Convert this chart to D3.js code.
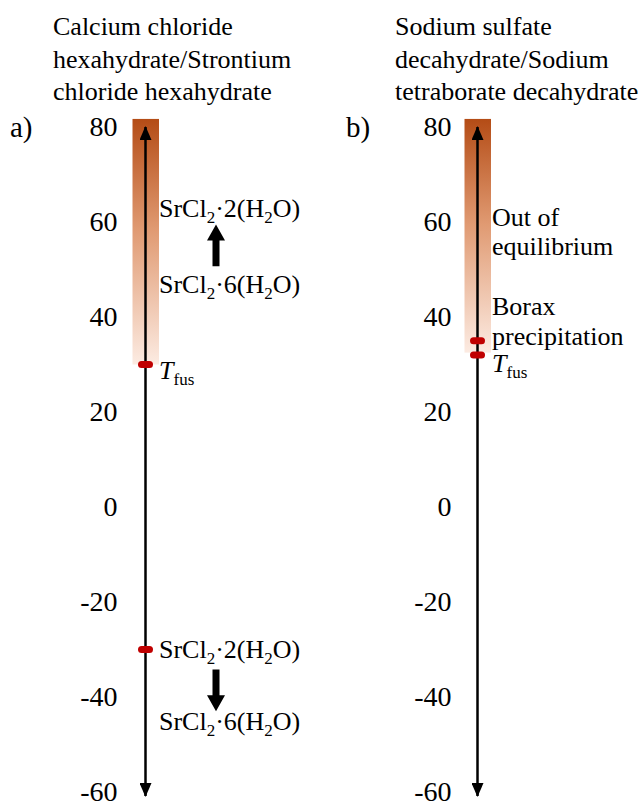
<!DOCTYPE html>
<html>
<head>
<meta charset="utf-8">
<script src="https://cdn.jsdelivr.net/npm/d3@7"></script>
<style>
  body { margin: 0; background: #fff; }
  svg text { font-family: "Liberation Serif", "Times New Roman", serif; fill: #000; }
</style>
</head>
<body>
<div id="chart"></div>
<script>
// Temperature axis (°C) shared by both panels
const tickValues = [80, 60, 40, 20, 0, -20, -40, -60];
const axisRange = [80, -60];

// Panel a) calcium chloride / strontium chloride
const titleA = ["Calcium chloride", "hexahydrate/Strontium", "chloride hexahydrate"];
const barA = [81.7, 30];          // shaded band (top, bottom)
const markersA = [30, -30];       // red marks on the axis
const labelsA = [
    {value: 63, parts: [["SrCl", 0], ["2", 1], ["·2(H", 0], ["2", 1], ["O)", 0]]},
    {value: 47, parts: [["SrCl", 0], ["2", 1], ["·6(H", 0], ["2", 1], ["O)", 0]]},
    {value: 28.8, parts: [["T", 2], ["fus", 1]]},
    {value: -30, parts: [["SrCl", 0], ["2", 1], ["·2(H", 0], ["2", 1], ["O)", 0]]},
    {value: -45, parts: [["SrCl", 0], ["2", 1], ["·6(H", 0], ["2", 1], ["O)", 0]]}
];
const bigArrowsA = [[50.7, 59.5], [-34.2, -43]];  // [from, to]

// Panel b) sodium sulfate / sodium tetraborate
const titleB = ["Sodium sulfate", "decahydrate/Sodium", "tetraborate decahydrate"];
const barB = [81.7, 32.5];
const markersB = [35, 32];
const labelsB = [
    {value: 61, parts: [["Out of", 0]]},
    {value: 55, parts: [["equilibrium", 0]]},
    {value: 42.3, parts: [["Borax", 0]]},
    {value: 36, parts: [["precipitation", 0]]},
    {value: 30.2, parts: [["T", 2], ["fus", 1]]}
];

const width = 643, height = 806;

const svg = d3.select("#chart").append("svg")
    .attr("width", width)
    .attr("height", height);

const defs = svg.append("defs");

// gradient for the shaded band
const grad = defs.append("linearGradient")
    .attr("id", "band")
    .attr("x1", 0).attr("y1", 0).attr("x2", 0).attr("y2", 1);
grad.append("stop").attr("offset", "0%").attr("stop-color", "#b44c16");
grad.append("stop").attr("offset", "45%").attr("stop-color", "#e09a72");
grad.append("stop").attr("offset", "100%").attr("stop-color", "#fcebe2");

// arrowhead for the axis line
defs.append("marker")
    .attr("id", "tip")
    .attr("viewBox", "0 0 14 12")
    .attr("refX", 13).attr("refY", 6)
    .attr("markerWidth", 14).attr("markerHeight", 12)
    .attr("markerUnits", "userSpaceOnUse")
    .attr("orient", "auto-start-reverse")
  .append("path")
    .attr("d", "M0,0 L14,6 L0,12 Z")
    .attr("fill", "#000");

const y = d3.scaleLinear()
    .domain(axisRange)
    .range([127, 792]);

function drawPanel(opt) {
    const g = svg.append("g");

    // title lines
    g.append("text")
        .attr("x", opt.titleX)
        .attr("y", 35)
        .style("font-size", "26px")
        .selectAll("tspan")
        .data(opt.title)
        .join("tspan")
            .attr("x", opt.titleX)
            .attr("dy", (d, i) => i === 0 ? 0 : 32.5)
            .text(d => d);

    // panel letter
    g.append("text")
        .attr("x", opt.letterX)
        .attr("y", y(80))
        .attr("dy", "0.34em")
        .style("font-size", "29px")
        .text(opt.letter);

    // shaded band
    g.append("rect")
        .attr("x", opt.axisX - 13)
        .attr("y", y(opt.bar[0]))
        .attr("width", 26.5)
        .attr("height", y(opt.bar[1]) - y(opt.bar[0]))
        .attr("fill", "url(#band)");

    // tick labels
    const axis = g.append("g")
        .attr("transform", "translate(" + opt.axisX + ",0)")
        .call(d3.axisLeft(y).tickValues(tickValues).tickSize(0).tickPadding(opt.pad).tickFormat(d => String(d)));
    axis.select(".domain").remove();
    axis.selectAll("text")
        .style("font-family", "'Liberation Serif', serif")
        .style("font-size", "28px")
        .attr("fill", "#000");

    // double-headed axis line
    g.append("line")
        .attr("x1", opt.axisX).attr("x2", opt.axisX)
        .attr("y1", y(-60) + 4).attr("y2", y(80))
        .attr("stroke", "#000")
        .attr("stroke-width", 2.5)
        .attr("marker-start", "url(#tip)")
        .attr("marker-end", "url(#tip)");

    // red marks
    g.selectAll(".mark")
        .data(opt.markers)
        .join("rect")
            .attr("class", "mark")
            .attr("x", opt.axisX - 7.5)
            .attr("y", d => y(d) - 3.5)
            .attr("width", 15)
            .attr("height", 7)
            .attr("rx", 3.5)
            .attr("fill", "#c00000");

    // labels with subscripts
    const lab = g.selectAll(".lab")
        .data(opt.labels)
        .join("text")
            .attr("class", "lab")
            .attr("x", opt.labelX)
            .attr("y", d => y(d.value))
            .attr("dy", "0.34em")
            .style("font-size", "26px");
    lab.each(function(d) {
        const t = d3.select(this);
        d.parts.forEach(([s, kind], i) => {
            const prev = i > 0 ? d.parts[i - 1][1] : 0;
            const ts = t.append("tspan").text(s);
            if (kind === 1) {
                ts.style("font-size", "17px").attr("dy", prev === 1 ? 0 : 6);
            } else {
                if (prev === 1) ts.attr("dy", -6);
                if (kind === 2) ts.style("font-style", "italic");
            }
        });
    });

    // thick block arrows
    if (opt.bigArrows) {
        const ax = opt.labelX + 57;
        g.selectAll(".big")
            .data(opt.bigArrows)
            .join("path")
                .attr("class", "big")
                .attr("fill", "#000")
                .attr("d", d => {
                    const y0 = y(d[0]), y1 = y(d[1]);
                    const dir = y1 < y0 ? -1 : 1;
                    const yh = y1 - dir * 16;
                    return "M" + (ax - 3.5) + "," + y0 +
                        "L" + (ax - 3.5) + "," + yh +
                        "L" + (ax - 9) + "," + yh +
                        "L" + ax + "," + y1 +
                        "L" + (ax + 9) + "," + yh +
                        "L" + (ax + 3.5) + "," + yh +
                        "L" + (ax + 3.5) + "," + y0 + "Z";
                });
    }
}

drawPanel({
    title: titleA, titleX: 53, letter: "a)", letterX: 10,
    axisX: 145.5, pad: 28, bar: barA, markers: markersA,
    labels: labelsA, labelX: 159, bigArrows: bigArrowsA
});

drawPanel({
    title: titleB, titleX: 395, letter: "b)", letterX: 346,
    axisX: 477.5, pad: 26, bar: barB, markers: markersB,
    labels: labelsB, labelX: 492
});
</script>
</body>
</html>
